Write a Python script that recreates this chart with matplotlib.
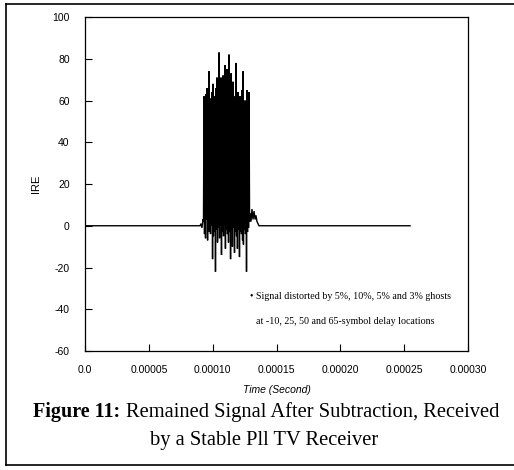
import numpy as np
import matplotlib
matplotlib.use("Agg")
import matplotlib.pyplot as plt
from matplotlib.lines import Line2D

# received signal (time in microseconds, amplitude in IRE)
t_us = [0.0, 90.1, 90.9, 91.6, 92.4, 92.8,
        93.2, 93.6, 94.0, 94.4, 94.8, 95.2, 95.6, 96.0, 96.3, 96.7,
        97.1, 97.5, 97.9, 98.3, 98.7, 99.1, 99.5, 99.9, 100.3, 100.6,
        101.0, 101.4, 101.8, 102.2, 102.6, 103.0, 103.4, 103.8, 104.2, 104.6,
        105.0, 105.4, 105.7, 106.1, 106.5, 106.9, 107.3, 107.7, 108.1, 108.5,
        108.9, 109.3, 109.7, 110.0, 110.4, 110.8, 111.2, 111.6, 112.0, 112.4,
        112.8, 113.2, 113.6, 114.0, 114.4, 114.8, 115.1, 115.5, 115.9, 116.3,
        116.7, 117.1, 117.5, 117.9, 118.3, 118.7, 119.1, 119.4, 119.8, 120.2,
        120.6, 121.0, 121.4, 121.8, 122.2, 122.6, 123.0, 123.4, 123.8, 124.1,
        124.5, 124.9, 125.3, 125.7, 126.1, 126.5, 126.9, 127.3, 127.7, 128.1,
        128.5, 128.9, 129.2, 130.0, 130.8, 131.6, 132.4, 133.2, 133.9, 134.7,
        135.5, 136.3, 254.6]
ire = [0, 0, 1, -1, 3, 2,
       62, -4, 58, -6, 63, 3, 66, -7, 60, -2,
       74, -3, 58, -4, 61, 0, 64, -16, 68, -5,
       57, -3, 62, -22, 66, -2, 71, -8, 60, -1,
       83, -6, 62, 0, 71, -14, 64, -3, 72, -5,
       60, 0, 77, -11, 65, -2, 75, -4, 62, -8,
       82, -3, 66, -16, 73, -2, 60, -10, 69, -1,
       61, -13, 62, -3, 78, -5, 58, -11, 64, -2,
       59, -15, 62, -3, 56, -4, 65, -7, 74, -9,
       58, -2, 60, -4, 57, -22, 65, -3, 62, -1,
       64, 2, 6, 2, 8, 3, 7, 3, 5, 2,
       1, 0, 0]

xticks = [0.0, 0.00005, 0.00010, 0.00015, 0.00020, 0.00025, 0.00030]
xlabels = ["0.0", "0.00005", "0.00010", "0.00015", "0.00020", "0.00025", "0.00030"]
yticks = [-60, -40, -20, 0, 20, 40, 60, 80, 100]

sans = "Liberation Sans"
serif = "Liberation Serif"

fig = plt.figure(figsize=(5.14, 4.70), dpi=100)
ax = fig.add_axes([0.1654, 0.2532, 0.7451, 0.7106])

t = np.array(t_us) * 1e-6
ax.plot(t, ire, color="black", lw=1.0, solid_joinstyle="miter")

ax.set_xlim(0, 0.0003)
ax.set_ylim(-60, 100)
ax.set_xticks(xticks)
ax.set_xticklabels(xlabels, fontsize=7.5, family=sans)
ax.set_yticks(yticks)
ax.set_yticklabels([str(v) for v in yticks], fontsize=7.5, family=sans)
ax.tick_params(direction="in", length=5, width=0.8, pad=10)
ax.tick_params(axis="y", pad=11)
for s in ax.spines.values():
    s.set_linewidth(0.9)

ax.set_xlabel("Time (Second)", fontsize=7.5, family=sans, style="italic", labelpad=7)
ax.set_ylabel("IRE", fontsize=8, family=sans, labelpad=8)

ax.text(0.43, 0.162, "\u2022 Signal distorted by 5%, 10%, 5% and 3% ghosts",
        transform=ax.transAxes, fontsize=7.2, family=serif, va="center")
ax.text(0.447, 0.087, "at -10, 25, 50 and 65-symbol delay locations",
        transform=ax.transAxes, fontsize=7.2, family=serif, va="center")

# caption
fig.text(33 / 514, 1 - 412 / 470, "Figure 11:", fontsize=14.5, family=serif,
         weight="bold", va="center", ha="left")
fig.text(126 / 514, 1 - 412 / 470, "Remained Signal After Subtraction, Received",
         fontsize=14.8, family=serif, va="center", ha="left")
fig.text(264 / 514, 1 - 440 / 470, "by a Stable Pll TV Receiver", fontsize=14.8,
         family=serif, va="center", ha="center")

# outer frame of the scanned figure
fx0, fx1 = 6 / 514, 1.0
fy0, fy1 = 1 - 465 / 470, 1 - 4 / 470
for xs, ys in [([fx0, fx1], [fy1, fy1]), ([fx0, fx0], [fy0, fy1]), ([fx0, fx1], [fy0, fy0])]:
    fig.add_artist(Line2D(xs, ys, color="black", lw=1.2, transform=fig.transFigure))

fig.savefig("out.png", dpi=100)
